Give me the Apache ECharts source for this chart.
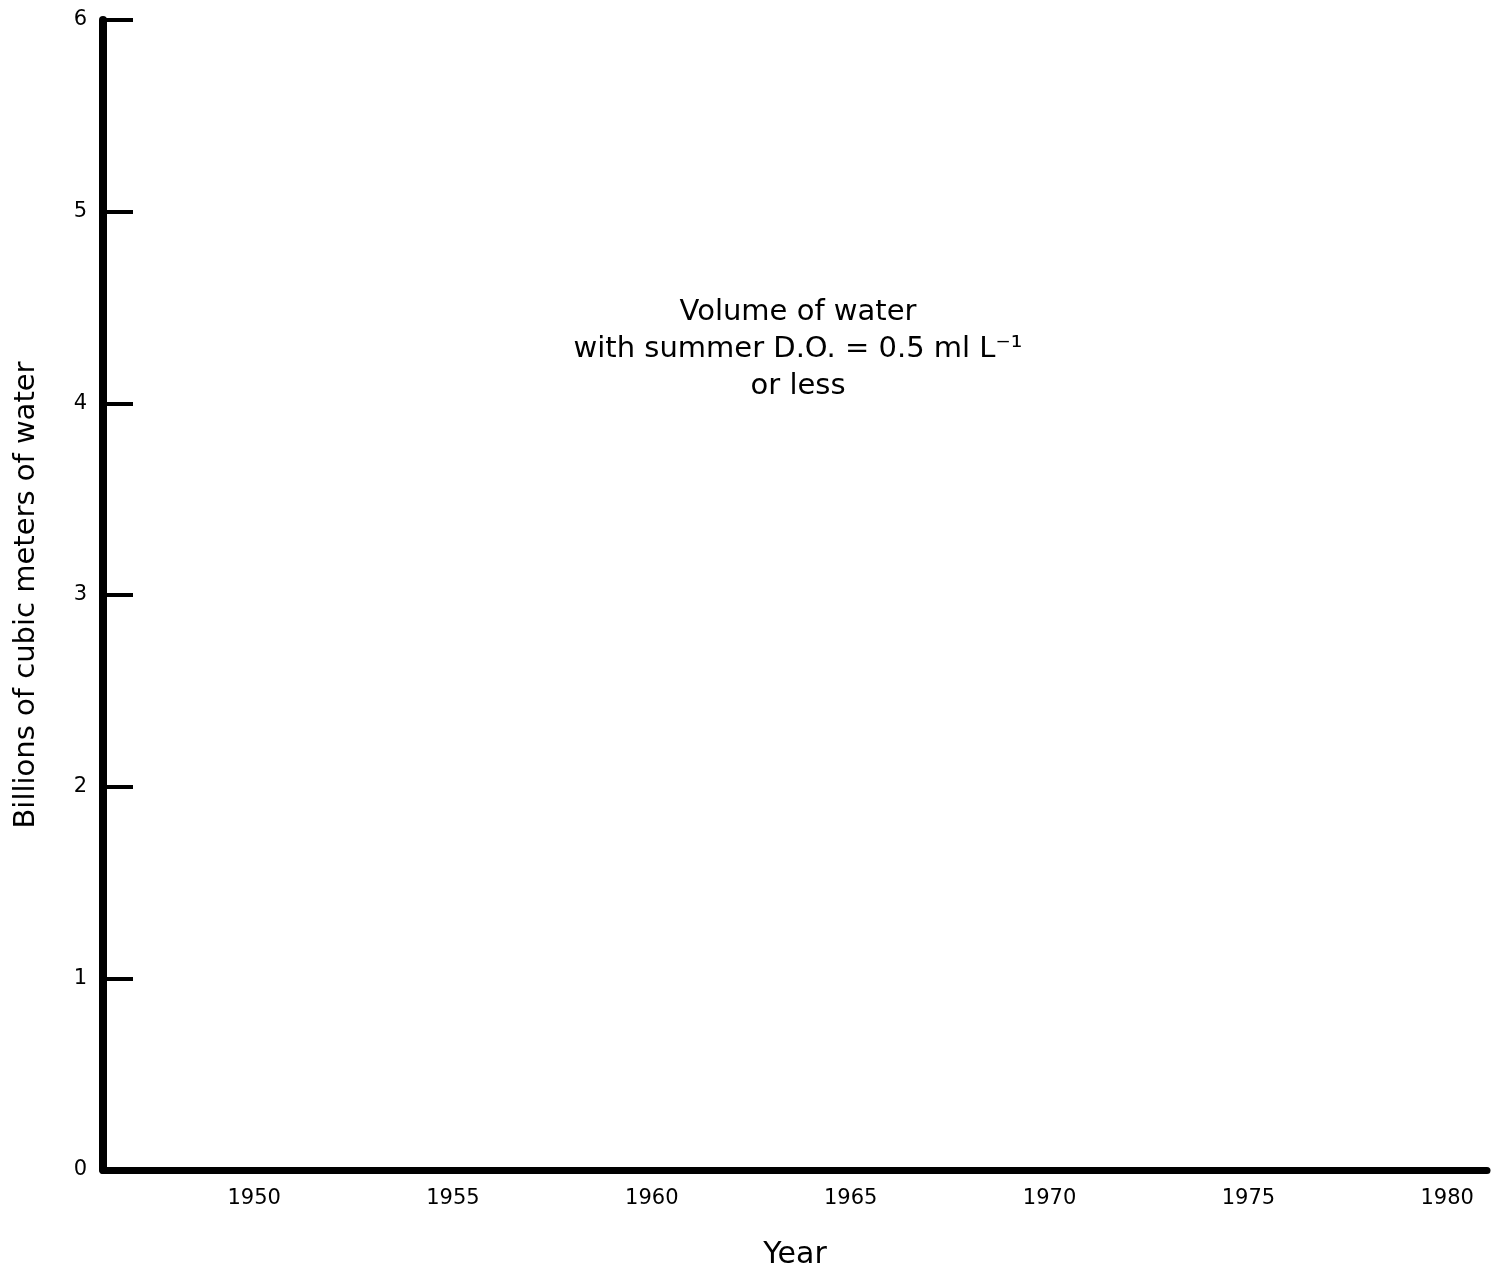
<!DOCTYPE html>
<html>
<head>
<meta charset="utf-8">
<script src="https://cdn.jsdelivr.net/npm/echarts@6/dist/echarts.min.js"></script>
<style>
  html, body { margin: 0; padding: 0; background: #fff; }
  #chart { width: 1495px; height: 1274px; }
</style>
</head>
<body>
<div id="chart"></div>
<script>
// axis ticks as printed on the figure
const yearTicks = [1950, 1955, 1960, 1965, 1970, 1975, 1980]
const volumeTicks = [0, 1, 2, 3, 4, 5, 6]
// no data marks survive on the figure, so the series is empty
const volumeData = []

const noteLines = ['Volume of water', 'with summer D.O. = 0.5 ml L\u207B\u00B9', 'or less']

const font = 'DejaVu Sans'
const chart = echarts.init(document.getElementById('chart'))

chart.setOption({
  backgroundColor: '#fff',
  animation: false,
  textStyle: { fontFamily: font, color: '#000' },
  grid: { left: 103, right: 8, top: 20, bottom: 104, outerBoundsMode: 'none', containLabel: false },
  xAxis: {
    type: 'value',
    min: 1946.2,
    max: 1981,
    name: 'Year',
    nameLocation: 'middle',
    nameGap: 70,
    nameTextStyle: { fontSize: 30, color: '#000', fontFamily: font },
    axisLine: { show: true, lineStyle: { color: '#000', width: 7 } },
    axisTick: { show: false },
    splitLine: { show: false },
    axisLabel: {
      customValues: yearTicks,
      formatter: (v) => String(v),
      fontSize: 21,
      color: '#000',
      margin: 18,
      fontFamily: font
    }
  },
  yAxis: {
    type: 'value',
    min: volumeTicks[0],
    max: volumeTicks[volumeTicks.length - 1],
    interval: 1,
    name: 'Billions of cubic meters of water',
    nameLocation: 'middle',
    nameGap: 62,
    nameTextStyle: { fontSize: 29, color: '#000', fontFamily: font },
    axisLine: { show: true, lineStyle: { color: '#000', width: 8 } },
    axisTick: { show: true, inside: true, length: 30, lineStyle: { color: '#000', width: 4 } },
    splitLine: { show: false },
    axisLabel: { fontSize: 21, color: '#000', margin: 16, fontFamily: font }
  },
  graphic: noteLines.map((line, i) => ({
    type: 'text',
    x: 798,
    y: 312 + i * 37,
    style: {
      text: line,
      fontSize: 29,
      fontFamily: font,
      fill: '#000',
      align: 'center',
      verticalAlign: 'middle'
    }
  })),
  series: [
    {
      type: 'scatter',
      data: volumeData,
      symbolSize: 8,
      itemStyle: { color: '#000' }
    }
  ]
})
</script>
</body>
</html>
